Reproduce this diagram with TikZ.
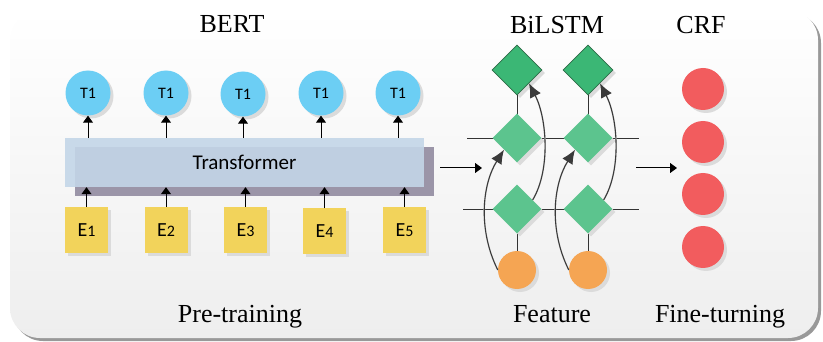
\documentclass[tikz,border=0pt]{standalone}
\usepackage{fontspec}
\setmainfont{Liberation Serif}
\newfontfamily\calib{Carlito}
\usetikzlibrary{shapes.geometric,arrows.meta,shadows}
\definecolor{tblue}{HTML}{6CCEF4}
\definecolor{tfront}{HTML}{C3D6E8}
\definecolor{tback}{HTML}{9B95A8}
\definecolor{eyel}{HTML}{F2D35B}
\definecolor{gdark}{HTML}{3BB775}
\definecolor{gdarkline}{HTML}{2E6B47}
\definecolor{glight}{HTML}{5CC48E}
\definecolor{orng}{HTML}{F5A553}
\definecolor{crfred}{HTML}{F25C5E}
\definecolor{bgbot}{HTML}{EEEEEE}
\definecolor{lnc}{HTML}{333333}
\definecolor{curc}{HTML}{3A3A3A}
\tikzset{
  shd/.style={drop shadow={shadow xshift=3pt,shadow yshift=-3pt,fill=black!14,opacity=1}},
  tnode/.style={circle,fill=tblue,minimum size=45pt,inner sep=0pt,shd,font=\calib\fontsize{16}{16}\selectfont},
  enode/.style={rectangle,fill=eyel,minimum width=43pt,minimum height=46pt,inner sep=0pt,shd,font=\calib\fontsize{20}{20}\selectfont},
  gtop/.style={diamond,aspect=1,fill=gdark,draw=gdarkline,line width=0.6pt,minimum size=50pt,inner sep=0pt,shd},
  gmid/.style={diamond,aspect=1,fill=glight,minimum size=49pt,inner sep=0pt,shd},
  onode/.style={circle,fill=orng,minimum size=38pt,inner sep=0pt,shd},
  rnode/.style={circle,fill=crfred,minimum size=42pt,inner sep=0pt,shd},
  arr/.style={draw=black,line width=1pt,-{Triangle[length=7pt,width=10pt]}},
  cur/.style={draw=curc,line width=1.1pt,-{Latex[length=14pt,width=12pt]}},
  curshd/.style={draw=black!13,line width=1.6pt,-{Latex[length=14pt,width=12pt]}},
  ttl/.style={anchor=base,font=\fontsize{26}{26}\selectfont},
  ln/.style={draw=lnc,line width=0.8pt}
}
\newcommand{\Ei}[1]{E{\fontsize{16}{16}\selectfont #1}}
\begin{document}
\begin{tikzpicture}[x=1pt,y=-1pt]
\useasboundingbox (0,0) rectangle (823,342);
% background panel
\fill[black!40,rounded corners=30pt] (13,13) rectangle (821,341);
\shade[top color=white,bottom color=bgbot,rounded corners=30pt] (10,10) rectangle (818,338);

% titles
\node[ttl] (bert) at (232,33) {BERT};
\node[ttl] (pre) at (240,323) {Pre-training};
\node[ttl] (bil) at (557,34) {BiLSTM};
\node[ttl] (crf) at (701,34) {CRF};
\node[ttl] (feat) at (552,323) {Feature};
\node[ttl] (fine) at (720,323) {Fine-turning};

% transformer
\node[rectangle,fill=tback,minimum width=359pt,minimum height=49pt,inner sep=0pt] (tfb) at (254.5,171.5) {};
\node[rectangle,fill=tfront,fill opacity=0.9,text opacity=1,minimum width=359pt,minimum height=49pt,inner sep=0pt,font=\calib\fontsize{21}{21}\selectfont] (tf) at (244.5,162.5) {Transformer};

% T outputs
\node[tnode] (t1) at (88,93) {T1};
\node[tnode] (t2) at (166,93) {T1};
\node[tnode] (t3) at (243,94) {T1};
\node[tnode] (t4) at (321,93) {T1};
\node[tnode] (t5) at (398,93) {T1};

% E inputs
\node[enode] (e1) at (86.5,230) {\Ei{1}};
\node[enode] (e2) at (166,230) {\Ei{2}};
\node[enode] (e3) at (245.5,230) {\Ei{3}};
\node[enode] (e4) at (324.5,231.5) {\Ei{4}};
\node[enode] (e5) at (404.5,230) {\Ei{5}};

\foreach \i in {1,...,5}{
  \draw[arr] (t\i |- tf.north) -- (t\i.south);
  \draw[arr] (e\i.north) -- (e\i |- tf.south);
}

% arrows between blocks
\coordinate (a1s) at (440,168);
\coordinate (a1e) at (482,168);
\coordinate (a2s) at (636,168);
\coordinate (a2e) at (677,168);
\draw[arr] (a1s) -- (a1e);
\draw[arr] (a2s) -- (a2e);

% BiLSTM horizontal lines
\coordinate (h1l) at (467,138);
\coordinate (h1r) at (639,138);
\coordinate (h2l) at (463,209);
\coordinate (h2r) at (639,209);
\draw[ln] (h1l) -- (h1r);
\draw[ln] (h2l) -- (h2r);

% BiLSTM columns
\node[gtop] (ta) at (517,70) {};
\node[gtop] (tb) at (588,70) {};
\node[onode] (oa) at (517,270) {};
\node[onode] (ob) at (588,270) {};
\draw[ln] (ta.south) -- (517,138);
\draw[ln] (tb.south) -- (588,138);
\draw[ln] (517,209) -- (oa.north);
\draw[ln] (588,209) -- (ob.north);
\node[gmid] (ma) at (517,138) {};
\node[gmid] (mb) at (588,138) {};
\node[gmid] (la) at (517,209) {};
\node[gmid] (lb) at (588,209) {};

% curved arrows
\foreach \c in {a,b}{
  \draw[curshd,xshift=3pt] (o\c.west) .. controls +(-20,-40) and +(-22,35) .. (m\c.222);
  \draw[cur] (o\c.west) .. controls +(-20,-40) and +(-22,35) .. (m\c.222);
  \draw[curshd,xshift=3pt] (l\c.30) .. controls +(18,-30) and +(18,35) .. (t\c.-48);
  \draw[cur] (l\c.30) .. controls +(18,-30) and +(18,35) .. (t\c.-48);
}

% CRF
\node[rnode] (r1) at (703,89) {};
\node[rnode] (r2) at (703,142) {};
\node[rnode] (r3) at (703,194) {};
\node[rnode] (r4) at (703,247) {};
\end{tikzpicture}
\end{document}
